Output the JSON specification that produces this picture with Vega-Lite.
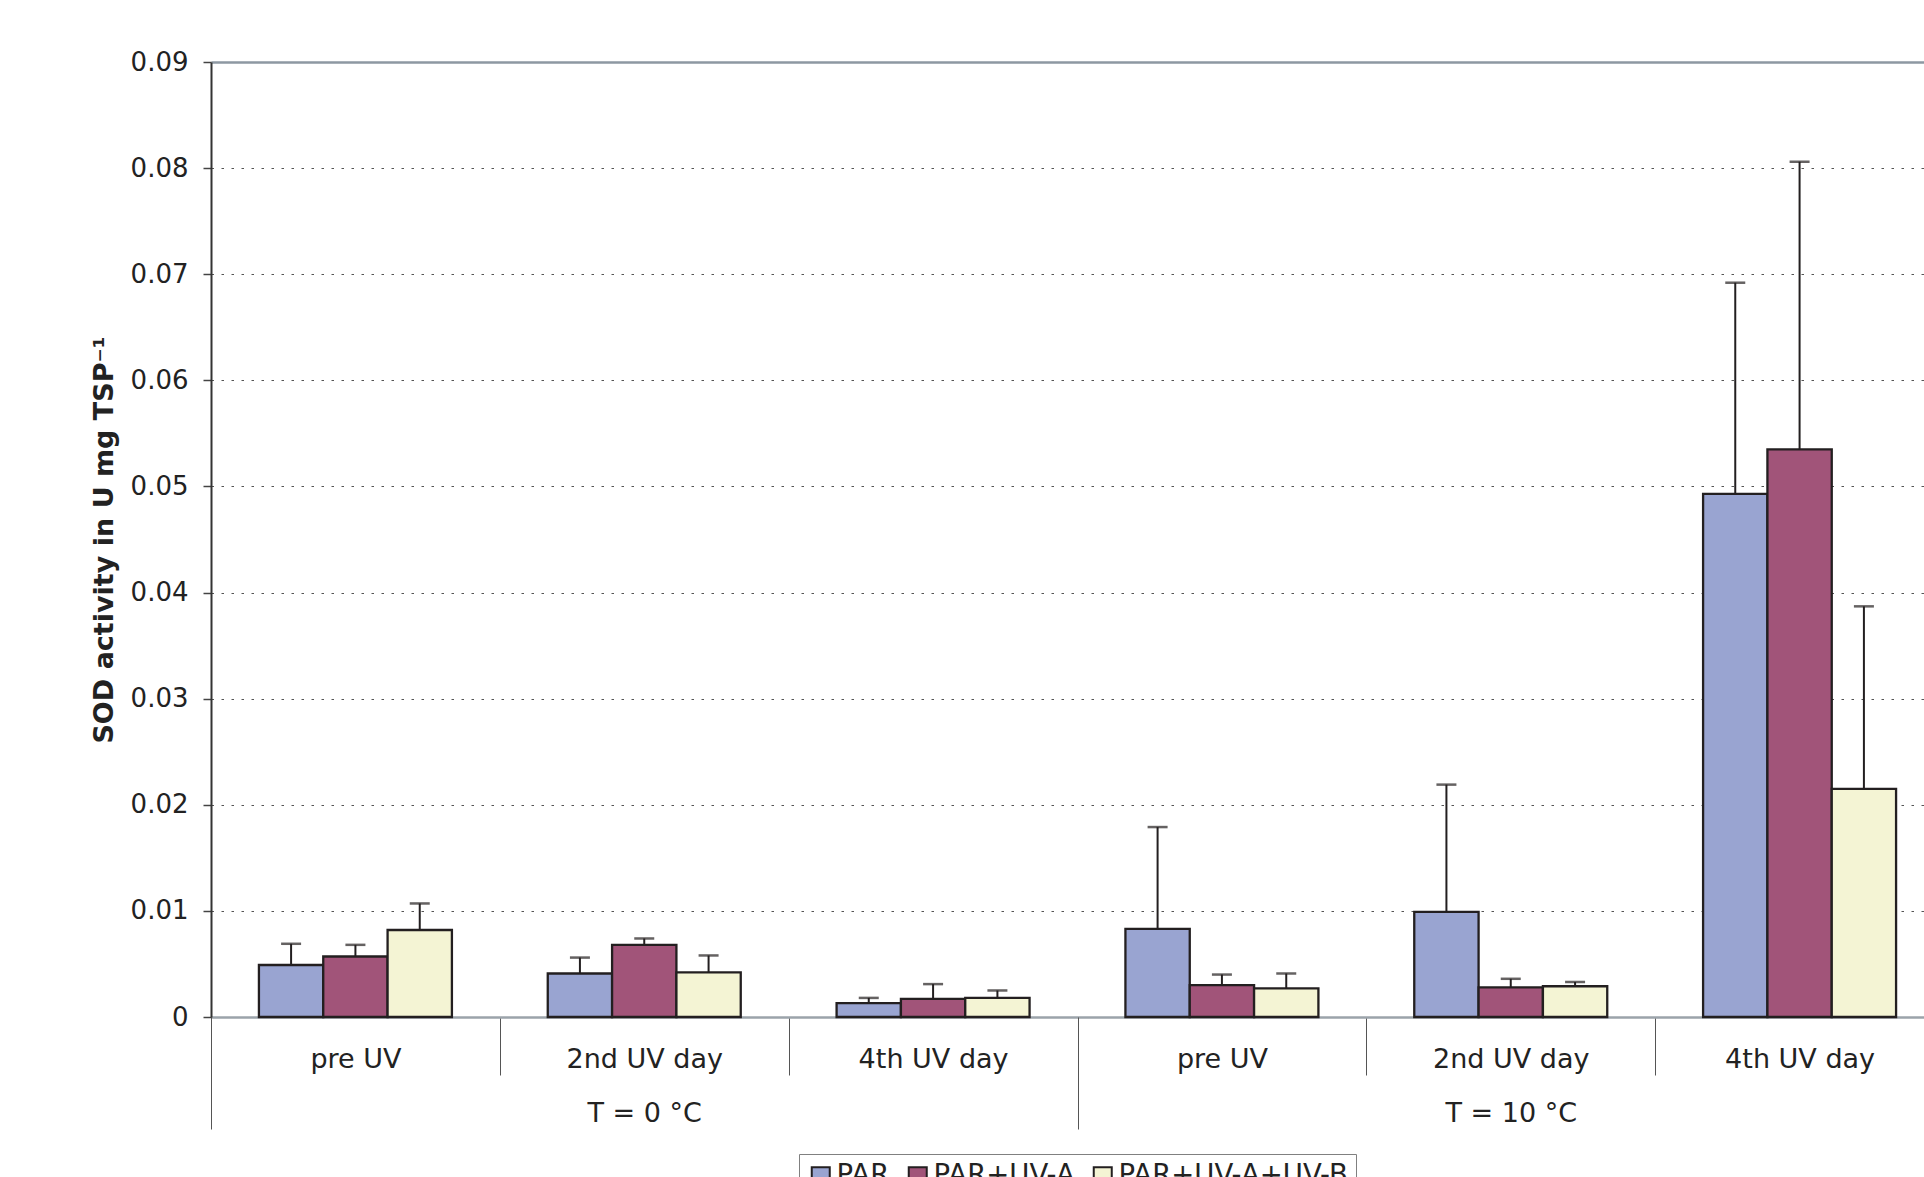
{
  "$schema": "https://vega.github.io/schema/vega-lite/v6.json",
  "autosize": "none",
  "padding": {"left": 211, "top": 62, "right": 0, "bottom": 160},
  "width": 1713,
  "height": 955,
  "background": "white",
  "config": {
    "view": {"stroke": null},
    "font": "DejaVu Sans",
    "axis": {"labelFont": "DejaVu Sans", "titleFont": "DejaVu Sans"},
    "legend": {
      "orient": "none",
      "legendX": 588,
      "legendY": 1092,
      "direction": "horizontal",
      "strokeColor": "#808080",
      "padding": 8,
      "symbolType": "square",
      "symbolSize": 324,
      "symbolStrokeColor": "#231f20",
      "symbolStrokeWidth": 2,
      "labelFont": "DejaVu Sans",
      "labelFontSize": 27.5,
      "labelColor": "#222222",
      "labelLimit": 400,
      "columnPadding": 14,
      "labelOffset": 2
    }
  },
  "data": {
    "values": [
      {"group": "T = 0 °C|pre UV", "treatment": "PAR", "value": 0.0049, "upper": 0.0069},
      {"group": "T = 0 °C|pre UV", "treatment": "PAR+UV-A", "value": 0.0057, "upper": 0.0068},
      {"group": "T = 0 °C|pre UV", "treatment": "PAR+UV-A+UV-B", "value": 0.0082, "upper": 0.0107},
      {"group": "T = 0 °C|2nd UV day", "treatment": "PAR", "value": 0.0041, "upper": 0.0056},
      {"group": "T = 0 °C|2nd UV day", "treatment": "PAR+UV-A", "value": 0.0068, "upper": 0.0074},
      {"group": "T = 0 °C|2nd UV day", "treatment": "PAR+UV-A+UV-B", "value": 0.0042, "upper": 0.0058},
      {"group": "T = 0 °C|4th UV day", "treatment": "PAR", "value": 0.0013, "upper": 0.0018},
      {"group": "T = 0 °C|4th UV day", "treatment": "PAR+UV-A", "value": 0.0017, "upper": 0.0031},
      {"group": "T = 0 °C|4th UV day", "treatment": "PAR+UV-A+UV-B", "value": 0.0018, "upper": 0.0025},
      {"group": "T = 10 °C|pre UV", "treatment": "PAR", "value": 0.0083, "upper": 0.0179},
      {"group": "T = 10 °C|pre UV", "treatment": "PAR+UV-A", "value": 0.0030, "upper": 0.0040},
      {"group": "T = 10 °C|pre UV", "treatment": "PAR+UV-A+UV-B", "value": 0.0027, "upper": 0.0041},
      {"group": "T = 10 °C|2nd UV day", "treatment": "PAR", "value": 0.0099, "upper": 0.0219},
      {"group": "T = 10 °C|2nd UV day", "treatment": "PAR+UV-A", "value": 0.0028, "upper": 0.0036},
      {"group": "T = 10 °C|2nd UV day", "treatment": "PAR+UV-A+UV-B", "value": 0.0029, "upper": 0.0033},
      {"group": "T = 10 °C|4th UV day", "treatment": "PAR", "value": 0.0493, "upper": 0.0692},
      {"group": "T = 10 °C|4th UV day", "treatment": "PAR+UV-A", "value": 0.0535, "upper": 0.0806},
      {"group": "T = 10 °C|4th UV day", "treatment": "PAR+UV-A+UV-B", "value": 0.0215, "upper": 0.0387}
    ]
  },
  "layer": [
    {
      "mark": {"type": "bar", "stroke": "#231f20", "strokeWidth": 2.3},
      "encoding": {
        "x": {
          "field": "group", "type": "nominal", "sort": null,
          "scale": {"range": [0, 1733], "paddingInner": 0, "paddingOuter": 0},
          "axis": {
            "orient": "bottom",
            "title": null,
            "labelExpr": "split(datum.label, '|')[1]",
            "labelAngle": 0,
            "labelFontSize": 27,
            "labelColor": "#222222",
            "labelPadding": -29,
            "tickBand": "extent",
            "tickSize": 58,
            "tickColor": "#555555",
            "tickWidth": 1,
            "domainColor": "#9ba3aa",
            "domainWidth": 2.5,
            "grid": false
          }
        },
        "xOffset": {
          "field": "treatment", "type": "nominal",
          "sort": ["PAR", "PAR+UV-A", "PAR+UV-A+UV-B"],
          "scale": {"paddingOuter": 0.745, "paddingInner": 0}
        },
        "y": {
          "field": "value", "type": "quantitative",
          "scale": {"domain": [0, 0.09], "nice": false},
          "axis": {
            "title": "SOD activity in U mg TSP⁻¹",
            "titleFontSize": 27,
            "titleFontWeight": "bold",
            "titleColor": "#222222",
            "titlePadding": 12,
            "values": [0, 0.01, 0.02, 0.03, 0.04, 0.05, 0.06, 0.07, 0.08, 0.09],
            "labelExpr": "datum.value == 0 ? '0' : format(datum.value, '.2f')",
            "labelFontSize": 26,
            "labelColor": "#222222",
            "labelPadding": 15,
            "tickSize": 8,
            "tickColor": "#444444",
            "tickWidth": 1.5,
            "domainColor": "#333333",
            "domainWidth": 2,
            "grid": true,
            "gridColor": {"condition": {"test": "datum.value >= 0.089", "value": "#8d98a2"}, "value": "#555555"},
            "gridDash": {"condition": {"test": "datum.value >= 0.089", "value": [1, 0]}, "value": [2.5, 7.5]},
            "gridWidth": {"condition": {"test": "datum.value >= 0.089", "value": 2.5}, "value": 1}
          }
        },
        "color": {
          "field": "treatment", "type": "nominal",
          "scale": {"domain": ["PAR", "PAR+UV-A", "PAR+UV-A+UV-B"], "range": ["#99a4d1", "#a15479", "#f4f4d4"]},
          "legend": {"title": null}
        }
      }
    },
    {
      "mark": {"type": "rule", "color": "#231f20", "strokeWidth": 2},
      "encoding": {
        "x": {
          "field": "group", "type": "nominal", "sort": null,
          "scale": {"range": [0, 1733], "paddingInner": 0, "paddingOuter": 0},
          "axis": {
            "orient": "bottom",
            "title": null,
            "domain": false,
            "labelExpr": "indexof(datum.label, '2nd UV day') >= 0 ? split(datum.label, '|')[0] : ''",
            "labelAngle": 0,
            "labelFontSize": 27,
            "labelColor": "#222222",
            "labelPadding": -29,
            "tickBand": "extent",
            "tickSize": 112,
            "tickColor": "#555555",
            "tickWidth": 1,
            "tickOpacity": {"condition": {"test": "!isString(datum.value) || indexof(datum.value, '4th UV day') >= 0", "value": 1}, "value": 0},
            "grid": false
          }
        },
        "xOffset": {
          "field": "treatment", "type": "nominal",
          "sort": ["PAR", "PAR+UV-A", "PAR+UV-A+UV-B"],
          "scale": {"paddingOuter": 0.745, "paddingInner": 0}
        },
        "y": {"field": "value", "type": "quantitative", "scale": {"domain": [0, 0.09], "nice": false}},
        "y2": {"field": "upper"}
      }
    },
    {
      "mark": {"type": "tick", "color": "#231f20", "thickness": 2.5, "size": 20},
      "encoding": {
        "x": {
          "field": "group", "type": "nominal", "sort": null,
          "scale": {"range": [0, 1733], "paddingInner": 0, "paddingOuter": 0},
          "axis": null
        },
        "xOffset": {
          "field": "treatment", "type": "nominal",
          "sort": ["PAR", "PAR+UV-A", "PAR+UV-A+UV-B"],
          "scale": {"paddingOuter": 0.745, "paddingInner": 0}
        },
        "y": {"field": "upper", "type": "quantitative", "scale": {"domain": [0, 0.09], "nice": false}}
      }
    }
  ],
  "resolve": {"axis": {"x": "independent"}}
}
